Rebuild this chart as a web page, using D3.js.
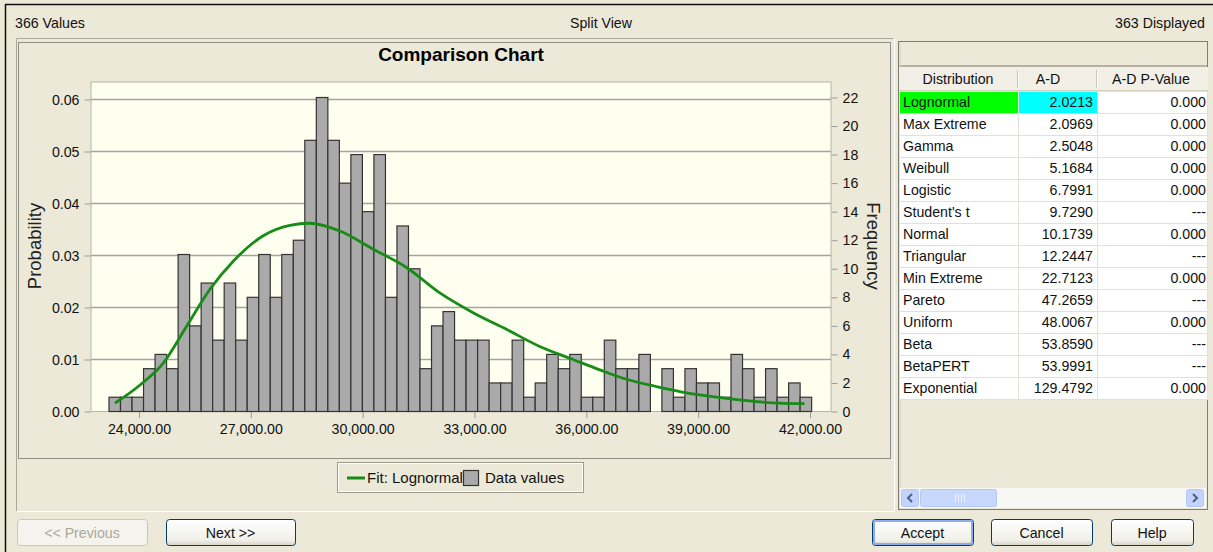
<!DOCTYPE html>
<head>
<meta charset="utf-8">
<title>Comparison Chart</title>
<script src="https://d3js.org/d3.v7.min.js"></script>
<style>
body, html { margin: 0; padding: 0; background: #ece9d8; }
svg { display: block; font-family: "Liberation Sans", Arial, sans-serif; }
.lbl { font-size: 14.2px; fill: #111; }
.grid line { stroke: #a3a3a3; stroke-width: 1.5px; }
.bar { fill: #aaaaaa; stroke: #333; stroke-width: 1.2px; }
.fit { fill: none; stroke: #178c17; stroke-width: 2.8px; }
.axis path { display: none; }
.axis line { stroke: #9a9a9a; }
.axis text { font-size: 14.2px; fill: #111; font-family: "Liberation Sans", Arial, sans-serif; }
.cell { fill: #fff; stroke: #e2e0da; }
</style>
</head>
<body>
<div id="chart"></div>
<script>
// histogram counts per bin (363 displayed of 366 values)
var counts = [1,1,1,3,4,3,11,6,9,5,9,5,8,11,8,11,12,19,22,19,16,
              18,14,18,8,13,10,3,6,7,5,5,5,2,2,5,1,2,4,3,4,1,1,
              5,3,3,4,0,3,1,3,2,2,1,4,3,1,3,1,2,1];
var binStart = 23195, binWidth = 309;

// fitted lognormal curve
var fitX = [23357,24027,24652,25278,25903,26528,27333,28048,28584,29388,30281,31176,32069,
            32962,33857,34750,35643,36359,36984,37879,38771,39665,40560,41185,41855];
var fitP = [0.0016,0.0051,0.0093,0.0164,0.0235,0.0289,0.0338,0.0358,0.0362,0.0347,0.0312,0.0277,0.0228,
            0.0190,0.0158,0.0125,0.0100,0.0080,0.0064,0.0048,0.0035,0.0026,0.0019,0.0016,0.0015];

var xTicks = [24000,27000,30000,33000,36000,39000,42000];
var probTicks = [0,0.01,0.02,0.03,0.04,0.05,0.06];
var freqTicks = [0,2,4,6,8,10,12,14,16,18,20,22];

var distNames = ["Lognormal","Max Extreme","Gamma","Weibull","Logistic","Student's t","Normal",
                 "Triangular","Min Extreme","Pareto","Uniform","Beta","BetaPERT","Exponential"];
var adStats = [2.0213,2.0969,2.5048,5.1684,6.7991,9.7290,10.1739,12.2447,22.7123,47.2659,48.0067,53.8590,53.9991,129.4792];
var adPValues = ["0.000","0.000","0.000","0.000","0.000","---","0.000","---","0.000","---","0.000","---","---","0.000"];

var W = 1213, H = 552;
var svg = d3.select("#chart").append("svg").attr("width", W).attr("height", H);

var defs = svg.append("defs");
var grad = defs.append("linearGradient").attr("id", "btn").attr("x1", 0).attr("y1", 0).attr("x2", 0).attr("y2", 1);
grad.append("stop").attr("offset", "0%").attr("stop-color", "#ffffff");
grad.append("stop").attr("offset", "80%").attr("stop-color", "#f0efe8");
grad.append("stop").attr("offset", "100%").attr("stop-color", "#d8d4c6");

// window frame
svg.append("rect").attr("x", 0).attr("y", 0).attr("width", W).attr("height", H).attr("fill", "#ece9d8");
svg.append("line").attr("x1", 5).attr("x2", W).attr("y1", 4.5).attr("y2", 4.5).attr("stroke", "#111").attr("stroke-width", 1.5);
svg.append("line").attr("x1", 5.5).attr("x2", 5.5).attr("y1", 4).attr("y2", H).attr("stroke", "#111").attr("stroke-width", 1.5);

// status texts
svg.append("text").attr("class", "lbl").attr("x", 15).attr("y", 28).text("366 Values");
svg.append("text").attr("class", "lbl").attr("x", 601).attr("y", 28).attr("text-anchor", "middle").text("Split View");
svg.append("text").attr("class", "lbl").attr("x", 1205).attr("y", 28).attr("text-anchor", "end").text("363 Displayed");

// left panel border and dotted chart frame
svg.append("path").attr("d", "M16.5,511 V38.5 H893.5").attr("fill", "none").attr("stroke", "#aca899");
svg.append("path").attr("d", "M16.5,511.5 H894.5 V38").attr("fill", "none").attr("stroke", "#fff");
svg.append("rect").attr("x", 18.5).attr("y", 42.5).attr("width", 872).attr("height", 416)
  .attr("fill", "none").attr("stroke", "#333").attr("stroke-dasharray", "1,1");

svg.append("text").attr("x", 461).attr("y", 61).attr("text-anchor", "middle")
  .style("font-weight", "bold").style("font-size", "19px").text("Comparison Chart");

// plot area
var plotL = 91, plotR = 831, plotT = 82, plotB = 411.5;
var x = d3.scaleLinear().domain([24000, 42000]).range([139, 810]);
var yF = d3.scaleLinear().domain([0, 22]).range([plotB, 97.5]);
var yP = d3.scaleLinear().domain([0, 0.06]).range([plotB, 99.5]);

svg.append("rect").attr("x", plotL).attr("y", plotT).attr("width", plotR - plotL).attr("height", plotB - plotT)
  .attr("fill", "#fffff0").attr("stroke", "#b8b4a4");

svg.append("g").attr("class", "grid").selectAll("line").data(probTicks.slice(1)).enter().append("line")
  .attr("x1", plotL).attr("x2", plotR).attr("y1", function(d) { return yP(d); }).attr("y2", function(d) { return yP(d); });

svg.append("g").selectAll("rect").data(counts).enter().append("rect")
  .attr("class", "bar")
  .attr("x", function(d, i) { return x(binStart + i * binWidth); })
  .attr("width", function(d, i) { return x(binStart + (i + 1) * binWidth) - x(binStart + i * binWidth); })
  .attr("y", function(d) { return yF(d); })
  .attr("height", function(d) { return plotB - yF(d); })
  .style("display", function(d) { return d > 0 ? null : "none"; });

var fitData = fitX.map(function(v, i) { return [v, fitP[i]]; });
svg.append("path").datum(fitData).attr("class", "fit")
  .attr("d", d3.line().x(function(d) { return x(d[0]); }).y(function(d) { return yP(d[1]); }).curve(d3.curveMonotoneX));

// axes
svg.append("g").attr("class", "axis").attr("transform", "translate(0," + (plotB + 0.5) + ")")
  .call(d3.axisBottom(x).tickValues(xTicks).tickSize(6).tickPadding(6).tickFormat(d3.format(",.2f")));
svg.append("g").attr("class", "axis").attr("transform", "translate(" + (plotL - 0.5) + ",0)")
  .call(d3.axisLeft(yP).tickValues(probTicks).tickSize(6).tickPadding(5).tickFormat(d3.format(".2f")));
svg.append("g").attr("class", "axis").attr("transform", "translate(" + (plotR + 0.5) + ",0)")
  .call(d3.axisRight(yF).tickValues(freqTicks).tickSize(6).tickPadding(5));

svg.append("text").attr("transform", "translate(41,246) rotate(-90)").attr("text-anchor", "middle")
  .style("font-size", "18.5px").attr("fill", "#222").text("Probability");
svg.append("text").attr("transform", "translate(867,246) rotate(90)").attr("text-anchor", "middle")
  .style("font-size", "18.5px").attr("fill", "#222").text("Frequency");

// legend
var lg = svg.append("g");
lg.append("rect").attr("x", 337.5).attr("y", 462.5).attr("width", 246).attr("height", 30).attr("fill", "#ece9d8").attr("stroke", "#9d9a8e");
lg.append("rect").attr("x", 338.5).attr("y", 463.5).attr("width", 244).attr("height", 28).attr("fill", "none").attr("stroke", "#fff");
lg.append("line").attr("x1", 347).attr("x2", 365).attr("y1", 478).attr("y2", 478).attr("stroke", "#178c17").attr("stroke-width", 3);
lg.append("text").attr("class", "lbl").style("font-size", "15px").attr("x", 367).attr("y", 483).text("Fit: Lognormal");
lg.append("rect").attr("x", 463.5).attr("y", 470.5).attr("width", 15).attr("height", 15).attr("class", "bar");
lg.append("text").attr("class", "lbl").style("font-size", "15px").attr("x", 485).attr("y", 483).text("Data values");

// right panel table
var tp = svg.append("g");
tp.append("rect").attr("x", 898.5).attr("y", 41.5).attr("width", 309).attr("height", 468).attr("fill", "#ece9d8").attr("stroke", "#7f7d72");
tp.append("line").attr("x1", 899).attr("x2", 1208).attr("y1", 66).attr("y2", 66).attr("stroke", "#7f7d72");
tp.append("line").attr("x1", 900).attr("x2", 900).attr("y1", 42).attr("y2", 509).attr("stroke", "#d4d0c8");

var colX = [899, 1018, 1097, 1208];
var rowH = 22, headY = 67, rowY0 = 91;
tp.append("rect").attr("x", 899).attr("y", headY).attr("width", 309).attr("height", 23).attr("fill", "#f1efe6");
tp.append("line").attr("x1", 899).attr("x2", 1208).attr("y1", 90.5).attr("y2", 90.5).attr("stroke", "#d6d2c2");
[1018, 1097].forEach(function(cx) {
  tp.append("line").attr("x1", cx - 0.5).attr("x2", cx - 0.5).attr("y1", headY + 3).attr("y2", 88).attr("stroke", "#c9c5b6");
  tp.append("line").attr("x1", cx + 0.5).attr("x2", cx + 0.5).attr("y1", headY + 3).attr("y2", 88).attr("stroke", "#fff");
});
tp.append("text").attr("class", "lbl").attr("x", 958).attr("y", 84).attr("text-anchor", "middle").text("Distribution");
tp.append("text").attr("class", "lbl").attr("x", 1048).attr("y", 84).attr("text-anchor", "middle").text("A-D");
tp.append("text").attr("class", "lbl").attr("x", 1151).attr("y", 84).attr("text-anchor", "middle").text("A-D P-Value");

var rows = tp.selectAll("g.row").data(distNames).enter().append("g")
  .attr("transform", function(d, i) { return "translate(0," + (rowY0 + i * rowH) + ")"; });
rows.append("rect").attr("class", "cell").attr("x", colX[0] + 0.5).attr("y", 0.5).attr("width", colX[1] - colX[0]).attr("height", rowH)
  .style("fill", function(d, i) { return i === 0 ? "#00ff00" : "#fff"; });
rows.append("rect").attr("class", "cell").attr("x", colX[1] + 0.5).attr("y", 0.5).attr("width", colX[2] - colX[1]).attr("height", rowH)
  .style("fill", function(d, i) { return i === 0 ? "#00ffff" : "#fff"; });
rows.append("rect").attr("class", "cell").attr("x", colX[2] + 0.5).attr("y", 0.5).attr("width", colX[3] - colX[2] - 1).attr("height", rowH);
rows.append("text").attr("class", "lbl").attr("x", 903).attr("y", 16).text(function(d) { return d; });
rows.append("text").attr("class", "lbl").attr("x", 1093).attr("y", 16).attr("text-anchor", "end")
  .text(function(d, i) { return adStats[i].toFixed(4); });
rows.append("text").attr("class", "lbl").attr("x", 1206).attr("y", 16).attr("text-anchor", "end")
  .text(function(d, i) { return adPValues[i]; });

// scrollbar
var sb = svg.append("g");
sb.append("rect").attr("x", 900).attr("y", 488).attr("width", 306).attr("height", 20).attr("fill", "#f7f7f4");
function arrowBtn(bx, dir) {
  sb.append("rect").attr("x", bx + 0.5).attr("y", 489.5).attr("width", 17).attr("height", 17).attr("rx", 2)
    .attr("fill", "#c3d3fd").attr("stroke", "#b4c8f6");
  var cx = bx + 9, cy = 498;
  var p = dir < 0 ? [[cx + 2, cy - 4], [cx - 2, cy], [cx + 2, cy + 4]] : [[cx - 2, cy - 4], [cx + 2, cy], [cx - 2, cy + 4]];
  sb.append("path").attr("d", d3.line()(p)).attr("fill", "none").attr("stroke", "#4d6185").attr("stroke-width", 2);
}
arrowBtn(901, -1);
arrowBtn(1186, 1);
sb.append("rect").attr("x", 920.5).attr("y", 489.5).attr("width", 76).attr("height", 17).attr("rx", 2)
  .attr("fill", "#c8d7fc").attr("stroke", "#b4c8f6");
[955, 958, 961, 964].forEach(function(gx) {
  sb.append("line").attr("x1", gx + 0.5).attr("x2", gx + 0.5).attr("y1", 494).attr("y2", 502).attr("stroke", "#eef3ff");
});

// buttons
var buttons = [
  {label: "<< Previous", x: 17, w: 130, off: true},
  {label: "Next >>", x: 166, w: 129},
  {label: "Accept", x: 872, w: 101, def: true},
  {label: "Cancel", x: 991, w: 101},
  {label: "Help", x: 1111, w: 82}
];
var bg = svg.selectAll("g.btn").data(buttons).enter().append("g");
bg.append("rect").attr("x", function(d) { return d.x + 0.5; }).attr("y", 519.5).attr("width", function(d) { return d.w; }).attr("height", 26)
  .attr("rx", 3).attr("fill", function(d) { return d.off ? "#f4f3ee" : "url(#btn)"; })
  .attr("stroke", function(d) { return d.off ? "#c9c7ba" : "#003c74"; });
bg.filter(function(d) { return d.def; }).append("rect")
  .attr("x", function(d) { return d.x + 2; }).attr("y", 521).attr("width", function(d) { return d.w - 3; }).attr("height", 23)
  .attr("rx", 2).attr("fill", "none").attr("stroke", "#8cacee").attr("stroke-width", 2);
bg.append("text").attr("class", "lbl").attr("x", function(d) { return d.x + d.w / 2; }).attr("y", 537.5)
  .attr("text-anchor", "middle").style("fill", function(d) { return d.off ? "#aca899" : "#111"; })
  .text(function(d) { return d.label; });
</script>
</body>
